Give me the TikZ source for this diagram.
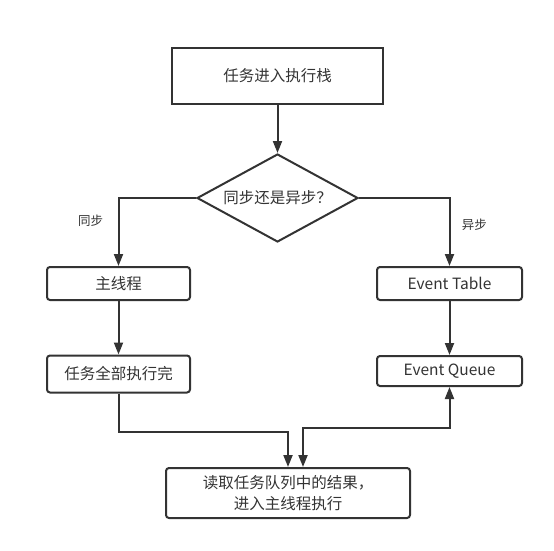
\documentclass[tikz,border=0pt]{standalone}
\usepackage{fontspec}
\setmainfont{Noto Sans CJK SC}
\usetikzlibrary{calc,arrows.meta,shapes.geometric}
\definecolor{ink}{HTML}{333333}

\begin{document}
\begin{tikzpicture}[x=1pt,y=-1pt,>={Triangle[length=12pt,width=9pt]},line width=2pt,draw=ink,text=ink,
  every node/.style={font={\fontsize{15.5}{21}\selectfont}},
  box/.style={draw=ink,line width=2pt,rectangle,inner sep=0pt,minimum width=211pt,minimum height=56pt},
  rbox/.style={draw=ink,line width=2pt,rectangle,rounded corners=3pt,inner sep=0pt},
  choice/.style={draw=ink,line width=2pt,diamond,aspect=1.83,inner sep=0pt,minimum width=161pt,minimum height=88pt},
  lbl/.style={font={\fontsize{12.5}{15}\selectfont}}]
\useasboundingbox (0,0) rectangle (554,551);
% blocks
\node[box] (task) at (277.5,76) {任务进入执行栈};
\node[choice] (decide) at (277.5,198) {同步还是异步？};
\node[rbox,minimum width=143pt,minimum height=33pt] (sync) at (118.5,283.5) {主线程};
\node[rbox,minimum width=143pt,minimum height=37pt] (done) at (118.5,374) {任务全部执行完};
\node[rbox,minimum width=145pt,minimum height=33pt] (table) at (449.5,283.5) {Event Table};
\node[rbox,minimum width=145pt,minimum height=30pt] (queue) at (449.5,371) {Event Queue};
\node[rbox,minimum width=244pt,minimum height=50pt,align=center] (result) at (288,493) {读取任务队列中的结果，\\进入主线程执行};

% joints of the lower connectors
\coordinate (lj) at ($(done.south)+(0,38)$);
\coordinate (rj) at ($(queue.south)+(0,41)$);

% connectors
\begin{scope}[draw=ink,line width=2pt]
\draw[->] (task.south) -- (decide.north);
\draw[->] (decide.west) -| node[lbl,pos=0.67,left=11pt] {同步} (sync.north);
\draw[->] (decide.east) -| node[lbl,pos=0.7,right=8pt] {异步} (table.north);
\draw[->] (sync.south) -- (done.north);
\draw[->] (table.south) -- (queue.north);
\draw[->] (done.south) -- (lj) -| (result.north);
\draw[<->] ([xshift=15pt]result.north) |- (rj) -- (queue.south);
\end{scope}
\end{tikzpicture}
\end{document}
